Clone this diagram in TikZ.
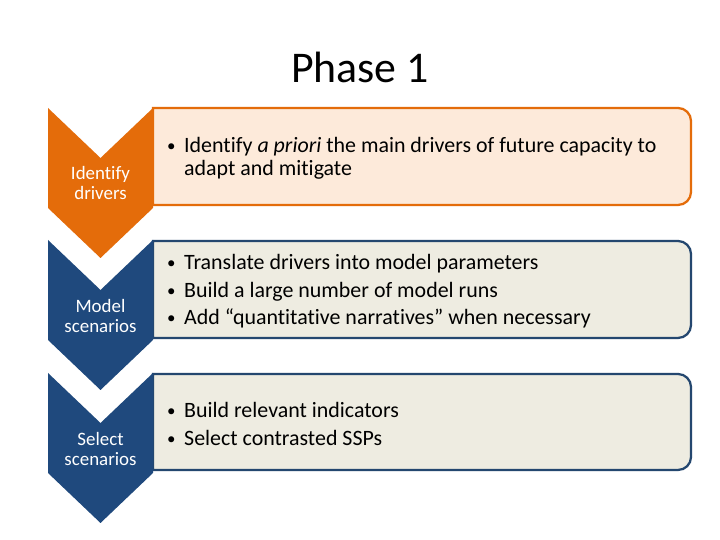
\documentclass[tikz,border=0pt]{standalone}
\usepackage{fontspec}
\setmainfont{Carlito}[Ligatures=NoCommon]
\usetikzlibrary{calc}
\definecolor{phaseorange}{HTML}{E46C0A}
\definecolor{phasepeach}{HTML}{FDEADA}
\definecolor{phaseblue}{HTML}{1F497D}
\definecolor{phaseline}{HTML}{24476F}
\definecolor{phasetan}{HTML}{EEECE1}
\def\chevron[#1](#2){\fill[#1] (48,#2) -- (100.5,#2-50) -- (153,#2) -- (153,#2-100) -- (100.5,#2-150) -- (48,#2-100) -- cycle;}
\def\roundbox[#1](#2:#3){\draw[#1] (153,#2) -- (678,#2) arc (90:0:13bp) -- (691,#3+13) arc (0:-90:13bp) -- (153,#3) -- cycle;}
\newcommand{\bul}{\makebox[31bp][l]{\hspace{14bp}\raisebox{1bp}{\fontsize{17}{17}\selectfont•}}}
\tikzset{
  orangebox/.style={draw=phaseorange, fill=phasepeach, line width=2.25bp},
  bluebox/.style={draw=phaseline, fill=phasetan, line width=2.25bp},
  chevlabel/.style={text=white, align=center, inner sep=0pt, font=\fontsize{19}{20.5}\selectfont},
  bullettext/.style={anchor=west, align=left, inner sep=0pt, font=\fontsize{22}{23.5}\selectfont}
}
\begin{document}
\begin{tikzpicture}[x=1bp, y=1bp]
			%%%%% FRAME %%%%%
			\useasboundingbox[fill=white] (0,0) rectangle (720,540);
			
			\node[anchor=base, font=\fontsize{44}{50}\selectfont, inner sep=0pt] (title) at (360,457) {Phase 1};
			
			%%%%% BOXES %%%%%
			\roundbox[orangebox](432:335);
			\roundbox[bluebox](299:202);
			\roundbox[bluebox](166:70);
			
			%%%%% CHEVRONS %%%%%
			\chevron[phaseorange](432);
			\chevron[phaseblue](300);
			\chevron[phaseblue](167);
			
			\node[chevlabel] (drivers) at (100.5,357) {Identify\\drivers};
			\node[chevlabel] (model) at (100.5,224) {Model\\scenarios};
			\node[chevlabel] (select) at (100.5,91) {Select\\scenarios};
			
			%%%%% TEXT %%%%%
			\node[bullettext] (drivertext) at (153,381.5) {\bul Identify \emph{a priori} the main drivers of future capacity to\\\hspace*{31bp}adapt and mitigate};
			\node[bullettext] (modeltext) at (153,248.5) {\bul Translate drivers into model parameters\\[4bp]\bul Build a large number of model runs\\[4bp]\bul Add “quantitative narratives” when necessary};
			\node[bullettext] (selecttext) at (153,116) {\bul Build relevant indicators\\[4bp]\bul Select contrasted SSPs};
\end{tikzpicture}
\end{document}
